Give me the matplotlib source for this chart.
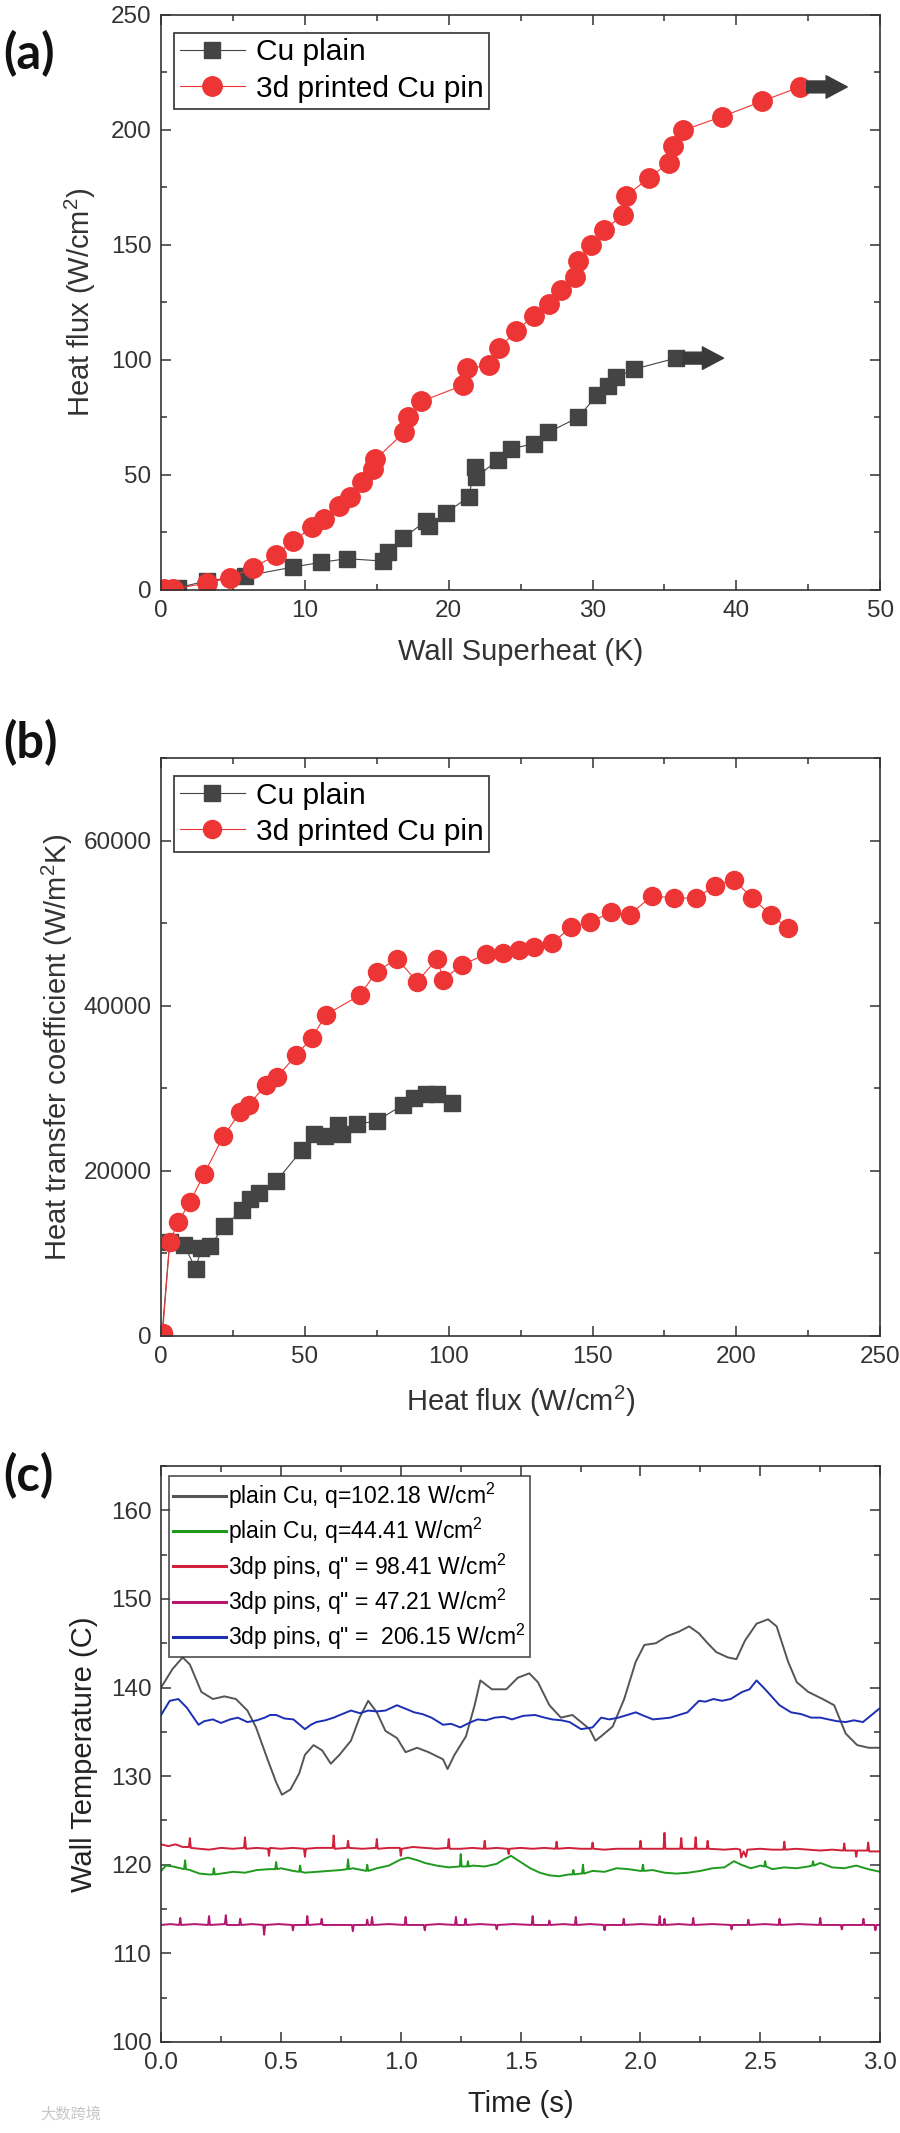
import matplotlib
matplotlib.use("Agg")
import matplotlib.pyplot as plt
import numpy as np
from matplotlib.ticker import MultipleLocator, FormatStrFormatter

plt.rcParams["font.family"] = ["Liberation Sans", "DejaVu Sans"]
plt.rcParams["mathtext.default"] = "regular"

# ---- panel (a): boiling curve ----
sh_cu = [1.2, 3.2, 5.8, 9.2, 11.1, 12.9, 15.4, 15.8, 16.8, 18.4, 18.6, 19.8, 21.4,
         21.8, 21.9, 23.4, 24.3, 25.9, 26.9, 29.0, 30.3, 31.1, 31.6, 32.9, 35.8]
q_cu = [1, 4, 6, 10, 12, 13.6, 12.6, 16.5, 22.4, 30, 28, 33.5, 40.5,
        53.5, 49, 56.4, 61.3, 63.6, 68.5, 75, 84.6, 88.5, 92.4, 96, 100.8]
sh_pin = [0.2, 0.8, 3.2, 4.8, 6.4, 8.0, 9.2, 10.5, 11.3, 12.4, 13.1, 14.0, 14.7, 14.9,
          16.9, 17.2, 18.1, 21.0, 21.3, 22.8, 23.5, 24.7, 25.9, 27.0, 27.8, 28.8, 29.0,
          29.9, 30.8, 32.1, 32.3, 33.9, 35.3, 35.6, 36.3, 39.0, 41.8, 44.4]
q_pin = [0.4, 0.4, 3, 5.4, 9.7, 15.2, 21.4, 27.2, 30.7, 36.4, 40.5, 47, 52.5, 56.8,
         68.5, 75, 82, 89, 96.3, 97.7, 105, 112.8, 119, 124.5, 130.4, 136.2, 143,
         149.8, 156.6, 163, 171.2, 179, 185.8, 193, 199.8, 205.8, 212.5, 218.7]

# ---- panel (b): HTC vs heat flux ----
qb_cu = [0.3, 3, 8, 12, 14, 17, 22, 28, 31, 34, 40, 49, 53, 57, 61.6, 63, 68, 75,
         84, 88, 92, 96, 101]
h_cu = [100, 11400, 11000, 8150, 10600, 10900, 13300, 15200, 16550, 17260, 18730,
        22530, 24430, 24160, 25500, 24430, 25620, 26060, 27960, 28770, 29320, 29320, 28230]
qb_pin = [0.5, 3, 6, 10, 15, 21.6, 27.6, 30.4, 36.4, 40.4, 47, 52.4, 57.4, 69, 75, 82,
          89, 96, 98, 104.6, 113, 119, 124.6, 129.6, 136, 142.6, 149, 156.4, 163, 170.6,
          178.4, 186, 192.6, 199.2, 205.4, 212, 218]
h_pin = [300, 11400, 13840, 16180, 19650, 24160, 27150, 27960, 30400, 31380, 34040,
         36100, 38930, 41260, 44140, 45710, 42890, 45710, 43160, 44950, 46250, 46420,
         46690, 47070, 47610, 49510, 50110, 51300, 51030, 53310, 53040, 53040, 54560,
         55270, 53040, 51030, 49400]

# ---- panel (c): wall temperature traces (time s, temperature C) ----
cu_102 = [(0.0, 140.0), (0.048, 142.1), (0.09, 143.4), (0.12, 142.6), (0.168, 139.5),
          (0.216, 138.7), (0.264, 139.0), (0.312, 138.7), (0.36, 137.4), (0.396, 135.5),
          (0.444, 131.9), (0.48, 129.3), (0.504, 127.9), (0.54, 128.5), (0.576, 130.3),
          (0.6, 132.4), (0.636, 133.5), (0.672, 132.9), (0.708, 131.4), (0.744, 132.4),
          (0.792, 134.0), (0.828, 136.6), (0.864, 138.5), (0.9, 137.2), (0.936, 135.1),
          (0.984, 134.3), (1.02, 132.7), (1.068, 133.2), (1.116, 132.7), (1.176, 131.9),
          (1.195, 130.8), (1.224, 132.4), (1.272, 134.5), (1.308, 138.0), (1.332, 140.8),
          (1.38, 139.8), (1.44, 139.8), (1.488, 141.1), (1.536, 141.6), (1.572, 140.6),
          (1.62, 138.0), (1.668, 136.6), (1.716, 136.9), (1.752, 136.1), (1.788, 135.3),
          (1.812, 134.0), (1.836, 134.5), (1.884, 135.6), (1.932, 138.7), (1.98, 142.9),
          (2.016, 144.8), (2.064, 145.0), (2.112, 145.8), (2.16, 146.3), (2.203, 146.9),
          (2.244, 146.1), (2.28, 145.0), (2.316, 144.0), (2.364, 143.4), (2.4, 143.2),
          (2.436, 145.3), (2.484, 147.2), (2.532, 147.7), (2.568, 146.9), (2.616, 142.9),
          (2.652, 140.6), (2.7, 139.5), (2.76, 138.7), (2.808, 138.0), (2.856, 134.8),
          (2.904, 133.5), (2.952, 133.2), (3.0, 133.2)]
cu_44 = [(0.00, 119.3), (0.02, 119.9), (0.05, 119.8), (0.08, 119.6), (0.096, 119.5), (0.10, 120.5),
         (0.104, 119.5), (0.12, 119.4), (0.16, 119.0), (0.2, 118.9), (0.216, 118.9), (0.22, 119.6),
         (0.224, 118.9), (0.25, 119.0), (0.3, 119.2), (0.35, 119.1), (0.4, 119.4), (0.45, 119.5),
         (0.476, 119.5), (0.48, 120.3), (0.484, 119.5), (0.5, 119.6), (0.55, 119.3), (0.576, 119.2),
         (0.58, 119.9), (0.584, 119.2), (0.6, 119.1), (0.65, 119.2), (0.7, 119.3), (0.75, 119.4),
         (0.776, 119.5), (0.78, 120.6), (0.784, 119.5), (0.8, 119.6), (0.856, 119.3), (0.86, 120.0),
         (0.864, 119.3), (0.9, 119.6), (0.95, 119.9), (1.0, 120.6), (1.03, 120.8), (1.07, 120.5),
         (1.1, 120.2), (1.15, 119.9), (1.2, 119.7), (1.246, 119.8), (1.25, 121.2), (1.254, 119.8),
         (1.276, 119.8), (1.28, 120.4), (1.284, 119.8), (1.3, 119.9), (1.35, 119.8), (1.4, 120.1),
         (1.43, 120.6), (1.46, 121.0), (1.5, 120.3), (1.54, 119.6), (1.58, 119.1), (1.62, 118.8),
         (1.66, 118.7), (1.7, 118.9), (1.716, 118.9), (1.72, 119.4), (1.724, 118.9), (1.75, 119.0),
         (1.756, 119.0), (1.76, 120.0), (1.764, 119.0), (1.8, 119.3), (1.85, 119.2), (1.9, 119.6),
         (1.95, 119.5), (2.0, 119.3), (2.006, 119.3), (2.01, 120.0), (2.014, 119.3), (2.05, 119.4),
         (2.1, 119.1), (2.15, 119.0), (2.2, 119.1), (2.25, 119.3), (2.3, 119.6), (2.35, 119.7),
         (2.39, 120.4), (2.42, 120.0), (2.46, 119.6), (2.5, 119.9), (2.516, 119.8), (2.52, 120.4),
         (2.524, 119.8), (2.55, 119.5), (2.6, 119.7), (2.65, 119.6), (2.7, 119.8), (2.716, 119.9),
         (2.72, 120.4), (2.724, 119.9), (2.75, 120.2), (2.8, 119.7), (2.85, 119.6), (2.9, 119.9),
         (2.95, 119.5), (3.0, 119.2)]
pin_98 = [(0.00, 122.3), (0.03, 122.1), (0.06, 122.3), (0.09, 122.0), (0.116, 122.0), (0.12, 123.0),
          (0.124, 121.9), (0.16, 121.8), (0.2, 121.7), (0.25, 121.9), (0.3, 121.8), (0.346, 121.9),
          (0.35, 123.1), (0.354, 121.8), (0.4, 121.9), (0.446, 121.8), (0.45, 121.0), (0.454, 121.9),
          (0.5, 121.8), (0.55, 121.9), (0.596, 121.8), (0.6, 120.9), (0.604, 121.8), (0.65, 121.9),
          (0.716, 121.9), (0.72, 123.3), (0.724, 121.8), (0.776, 121.9), (0.78, 122.7), (0.784, 121.9),
          (0.84, 121.8), (0.896, 121.9), (0.9, 122.9), (0.904, 121.8), (0.95, 121.9), (0.996, 121.9),
          (1.0, 121.0), (1.004, 121.8), (1.05, 122.0), (1.1, 121.9), (1.15, 121.8), (1.196, 121.9),
          (1.2, 122.9), (1.204, 121.8), (1.25, 121.8), (1.3, 121.9), (1.346, 121.8), (1.35, 122.7),
          (1.354, 121.8), (1.4, 121.9), (1.446, 121.8), (1.45, 121.2), (1.454, 121.8), (1.5, 121.9),
          (1.55, 121.8), (1.6, 121.9), (1.646, 121.8), (1.65, 122.6), (1.654, 121.8), (1.7, 121.9),
          (1.75, 121.8), (1.796, 121.8), (1.8, 122.5), (1.804, 121.8), (1.85, 121.7), (1.9, 121.8),
          (1.95, 121.8), (1.996, 121.8), (2.0, 122.7), (2.004, 121.8), (2.05, 121.8), (2.096, 121.8),
          (2.1, 123.6), (2.104, 121.8), (2.166, 121.8), (2.17, 123.0), (2.174, 121.8), (2.226, 121.8),
          (2.23, 123.1), (2.234, 121.8), (2.276, 121.8), (2.28, 122.7), (2.284, 121.8), (2.35, 121.7),
          (2.4, 121.8), (2.416, 121.7), (2.42, 120.8), (2.43, 121.5), (2.44, 120.9), (2.446, 121.7),
          (2.5, 121.8), (2.55, 121.7), (2.596, 121.7), (2.6, 122.6), (2.604, 121.7), (2.65, 121.8),
          (2.7, 121.7), (2.75, 121.6), (2.8, 121.7), (2.846, 121.6), (2.85, 122.4), (2.854, 121.6),
          (2.896, 121.6), (2.9, 120.9), (2.904, 121.6), (2.946, 121.6), (2.95, 122.5), (2.954, 121.5),
          (3.0, 121.5)]
pin_47 = [(0.00, 113.2), (0.04, 113.3), (0.076, 113.2), (0.08, 114.0), (0.084, 113.2), (0.14, 113.3),
          (0.196, 113.2), (0.2, 114.2), (0.204, 113.2), (0.266, 113.3), (0.27, 114.3), (0.274, 113.2),
          (0.326, 113.2), (0.33, 113.9), (0.334, 113.2), (0.38, 113.3), (0.426, 113.2), (0.43, 112.1),
          (0.434, 113.2), (0.49, 113.3), (0.546, 113.2), (0.55, 112.6), (0.554, 113.2), (0.606, 113.2),
          (0.61, 114.2), (0.614, 113.2), (0.666, 113.3), (0.67, 113.9), (0.674, 113.2), (0.74, 113.2),
          (0.796, 113.2), (0.8, 112.5), (0.804, 113.2), (0.856, 113.2), (0.86, 113.8), (0.864, 113.2),
          (0.876, 113.2), (0.88, 114.1), (0.884, 113.2), (0.95, 113.3), (1.016, 113.2), (1.02, 114.1),
          (1.024, 113.2), (1.096, 113.2), (1.1, 112.6), (1.104, 113.2), (1.16, 113.3), (1.226, 113.2),
          (1.23, 114.1), (1.234, 113.2), (1.266, 113.2), (1.27, 113.9), (1.274, 113.2), (1.33, 113.3),
          (1.396, 113.2), (1.4, 112.7), (1.404, 113.2), (1.47, 113.3), (1.546, 113.2), (1.55, 114.2),
          (1.554, 113.2), (1.616, 113.2), (1.62, 113.7), (1.624, 113.2), (1.68, 113.3), (1.726, 113.2),
          (1.73, 114.1), (1.734, 113.2), (1.79, 113.3), (1.846, 113.2), (1.85, 112.6), (1.854, 113.2),
          (1.926, 113.2), (1.93, 113.9), (1.934, 113.2), (2.0, 113.3), (2.076, 113.2), (2.08, 114.2),
          (2.084, 113.2), (2.096, 113.2), (2.1, 113.9), (2.104, 113.2), (2.16, 113.3), (2.216, 113.2),
          (2.22, 114.0), (2.224, 113.2), (2.3, 113.3), (2.376, 113.2), (2.38, 112.7), (2.384, 113.2),
          (2.446, 113.2), (2.45, 113.8), (2.454, 113.2), (2.52, 113.3), (2.576, 113.2), (2.58, 113.9),
          (2.584, 113.2), (2.66, 113.3), (2.746, 113.2), (2.75, 114.0), (2.754, 113.2), (2.836, 113.2),
          (2.84, 112.7), (2.844, 113.2), (2.926, 113.2), (2.93, 113.9), (2.934, 113.2), (2.976, 113.2),
          (2.98, 112.6), (2.984, 113.2), (3.0, 113.2)]
pin_206 = [(0.0, 136.9), (0.036, 138.5), (0.072, 138.7), (0.108, 137.7), (0.156, 135.8),
           (0.18, 136.2), (0.216, 136.4), (0.25, 136.0), (0.288, 136.4), (0.32, 136.6),
           (0.36, 136.1), (0.4, 136.3), (0.432, 136.6), (0.455, 136.9), (0.48, 136.9),
           (0.515, 136.5), (0.552, 136.4), (0.6, 135.3), (0.625, 135.8), (0.648, 136.1),
           (0.685, 136.3), (0.72, 136.6), (0.755, 137.0), (0.792, 137.4), (0.83, 137.1),
           (0.864, 137.4), (0.9, 137.3), (0.936, 137.4), (0.984, 138.0), (1.02, 137.6),
           (1.056, 137.2), (1.09, 137.0), (1.128, 136.6), (1.176, 135.8), (1.21, 135.9),
           (1.248, 135.5), (1.285, 136.0), (1.32, 136.4), (1.355, 136.3), (1.392, 136.6),
           (1.43, 136.7), (1.464, 136.4), (1.51, 136.8), (1.56, 136.9), (1.6, 136.6),
           (1.632, 136.4), (1.67, 136.3), (1.704, 136.1), (1.752, 135.3), (1.8, 135.5),
           (1.836, 136.6), (1.87, 136.4), (1.908, 136.6), (1.945, 136.9), (1.98, 137.2),
           (2.015, 136.8), (2.052, 136.4), (2.09, 136.5), (2.124, 136.6), (2.16, 136.9),
           (2.196, 137.2), (2.244, 138.5), (2.27, 138.4), (2.304, 138.7), (2.34, 138.5),
           (2.376, 138.7), (2.424, 139.5), (2.455, 139.8), (2.484, 140.8), (2.52, 139.8),
           (2.58, 138.0), (2.628, 137.2), (2.67, 137.0), (2.712, 136.6), (2.75, 136.6),
           (2.784, 136.4), (2.82, 136.2), (2.856, 136.1), (2.89, 136.3), (2.928, 136.1),
           (2.964, 136.9), (3.0, 137.7)]

c_labels = ["plain Cu, q=102.18 W/cm$^2$", "plain Cu, q=44.41 W/cm$^2$",
            "3dp pins, q\" = 98.41 W/cm$^2$", "3dp pins, q\" = 47.21 W/cm$^2$",
            "3dp pins, q\" =  206.15 W/cm$^2$"]
c_colors = ["#555555", "#1f9a1f", "#d0203a", "#b3176e", "#1c2fb4"]

GRAY = "#444444"
RED = "#ee3535"
TXT = "#333333"

fig = plt.figure(figsize=(9, 21.33), dpi=100)
ax_a = fig.add_axes([0.179, 0.7234, 0.799, 0.2696])
ax_b = fig.add_axes([0.179, 0.3737, 0.799, 0.2709])
ax_c = fig.add_axes([0.179, 0.0427, 0.799, 0.2700])


def style_axes(ax, xmaj, ymaj):
    ax.xaxis.set_major_locator(MultipleLocator(xmaj))
    ax.xaxis.set_minor_locator(MultipleLocator(xmaj / 2))
    ax.yaxis.set_major_locator(MultipleLocator(ymaj))
    ax.yaxis.set_minor_locator(MultipleLocator(ymaj / 2))
    ax.tick_params(which="both", direction="in", top=True, right=True,
                   color=TXT, width=1.1, labelcolor=TXT, labelsize=17.5, pad=7)
    ax.tick_params(which="major", length=7)
    ax.tick_params(which="minor", length=4)
    for sp in ax.spines.values():
        sp.set_linewidth(1.2)
        sp.set_color(TXT)


def add_legend(ax, size):
    leg = ax.legend(loc="upper left", bbox_to_anchor=(0.005, 0.985), fontsize=size,
                    frameon=True, fancybox=False, edgecolor="#111111",
                    handlelength=2.2, handletextpad=0.35, labelspacing=0.27,
                    borderpad=0.2, borderaxespad=0.3)
    leg.get_frame().set_linewidth(1.3)
    return leg


# (a)
ax_a.plot(sh_cu, q_cu, "-s", color=GRAY, lw=0.8, ms=12, label="Cu plain")
ax_a.plot(sh_pin, q_pin, "-o", color=RED, lw=0.8, ms=14, label="3d printed Cu pin")
for xs, ys in [(sh_cu, q_cu), (sh_pin, q_pin)]:
    ax_a.annotate("", xy=(xs[-1] + 3.5, ys[-1]), xytext=(xs[-1] + 0.3, ys[-1]),
                  arrowprops=dict(arrowstyle="simple,head_length=0.8,head_width=0.85,tail_width=0.45",
                                  color="#3a3a3a", mutation_scale=19))
ax_a.set_xlim(0, 50)
ax_a.set_ylim(0, 250)
style_axes(ax_a, 10, 50)
ax_a.set_xlabel("Wall Superheat (K)", fontsize=21, color=TXT, labelpad=12)
ax_a.set_ylabel("Heat flux (W/cm$^2$)", fontsize=21, color=TXT, labelpad=9)
add_legend(ax_a, 21.5)

# (b)
ax_b.plot(qb_cu, h_cu, "-s", color=GRAY, lw=0.8, ms=12, label="Cu plain")
ax_b.plot(qb_pin, h_pin, "-o", color=RED, lw=0.8, ms=13, label="3d printed Cu pin")
ax_b.set_xlim(0, 250)
ax_b.set_ylim(0, 70000)
style_axes(ax_b, 50, 20000)
ax_b.set_xlabel("Heat flux (W/cm$^2$)", fontsize=21, color=TXT, labelpad=12)
ax_b.set_ylabel("Heat transfer coefficient (W/m$^2$K)", fontsize=21, color=TXT, labelpad=6)
add_legend(ax_b, 21.5)

# (c)
for series, lab, col in zip([cu_102, cu_44, pin_98, pin_47, pin_206], c_labels, c_colors):
    t, temp = np.array(series).T
    ax_c.plot(t, temp, color=col, lw=1.4, label=lab)
ax_c.set_xlim(0, 3.0)
ax_c.set_ylim(100, 165)
style_axes(ax_c, 0.5, 10)
ax_c.xaxis.set_major_formatter(FormatStrFormatter("%.1f"))
ax_c.set_xlabel("Time (s)", fontsize=21, color="#222222", labelpad=12)
ax_c.set_ylabel("Wall Temperature (C)", fontsize=21, color="#222222", labelpad=9)
leg = ax_c.legend(loc="upper left", bbox_to_anchor=(0.004, 0.99), fontsize=16.5,
                  frameon=True, fancybox=False, edgecolor="#333333",
                  handlelength=2.3, handletextpad=0.1, labelspacing=0.22,
                  borderpad=0.2, borderaxespad=0.2)
leg.get_frame().set_linewidth(1.3)
for line in leg.get_lines():
    line.set_linewidth(2.2)

# panel letters
for ypos, letter in [(0.975, "(a)"), (0.652, "(b)"), (0.308, "(c)")]:
    fig.text(0.004, ypos, letter, fontsize=35, fontweight="bold",
             family=["Lato", "DejaVu Sans"], va="center", ha="left", color="#111111")

# watermark
fig.text(0.045, 0.009, "大数跨境", fontsize=11, color="#c8c8c8",
         family=["Noto Sans CJK SC", "DejaVu Sans"], va="center", ha="left")

fig.savefig("out.png", dpi=100)
